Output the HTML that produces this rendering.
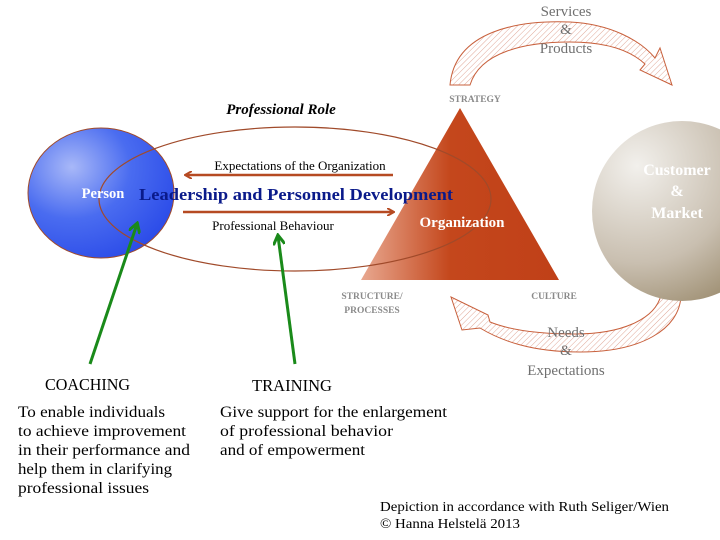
<!DOCTYPE html>
<html><head><meta charset="utf-8"><style>html,body{margin:0;padding:0;background:#fff}svg{display:block}</style></head>
<body>
<svg width="720" height="540" viewBox="0 0 720 540" xmlns="http://www.w3.org/2000/svg" font-family="Liberation Serif, serif">
<defs>
<pattern id="hatch" width="4" height="4" patternUnits="userSpaceOnUse" patternTransform="rotate(45)">
<rect width="4" height="4" fill="#fff"/><line x1="0" y1="0" x2="0" y2="4" stroke="#e0a898" stroke-width="1"/></pattern>
<radialGradient id="blue" cx="0.3" cy="0.3" r="0.8"><stop offset="0" stop-color="#a8b8f8"/><stop offset="0.5" stop-color="#4a6cf0"/><stop offset="1" stop-color="#2a4ae8"/></radialGradient>
<linearGradient id="tri" x1="0" y1="0" x2="1" y2="0"><stop offset="0" stop-color="#e8a890"/><stop offset="0.45" stop-color="#c4471c"/><stop offset="1" stop-color="#c04018"/></linearGradient>
<radialGradient id="cust" cx="0.25" cy="0.25" r="0.9"><stop offset="0" stop-color="#f2f0ec"/><stop offset="0.6" stop-color="#c9bfb0"/><stop offset="1" stop-color="#9a8a6c"/></radialGradient>
<marker id="ah" markerWidth="8" markerHeight="8" refX="6" refY="4" orient="auto" markerUnits="userSpaceOnUse"><path d="M0,0 L7,4 L0,8" fill="none" stroke="#b64a22" stroke-width="2"/></marker>
<marker id="gh" markerWidth="12" markerHeight="12" refX="9" refY="6" orient="auto" markerUnits="userSpaceOnUse"><path d="M0,0 L10,6 L0,12" fill="none" stroke="#1a8a1a" stroke-width="3"/></marker>
</defs>
<path d="M450,85 C455,30 520,20 570,22 C610,24 640,40 655,58 L660,48 L672,85 L640,70 L645,64 C630,50 605,42 570,42 C525,42 480,52 470,85 Z" fill="url(#hatch)" stroke="#c8603c" stroke-width="1"/>
<text x="566" y="16" font-size="15" fill="#707070" text-anchor="middle">Services</text>
<text x="566" y="34" font-size="15" fill="#707070" text-anchor="middle">&amp;</text>
<text x="566" y="53" font-size="15" fill="#707070" text-anchor="middle">Products</text>
<path d="M681,295 C680,330 640,352 580,352 C530,352 500,340 480,328 L462,330 L451,297 L488,315 L490,322 C510,330 540,334 575,334 C620,334 655,320 661,295 Z" fill="url(#hatch)" stroke="#c8603c" stroke-width="1"/>
<text x="566" y="337" font-size="15" fill="#707070" text-anchor="middle">Needs</text>
<text x="566" y="355" font-size="15" fill="#707070" text-anchor="middle">&amp;</text>
<text x="566" y="375" font-size="15" fill="#707070" text-anchor="middle">Expectations</text>
<circle cx="682" cy="211" r="90" fill="url(#cust)"/>
<text x="677" y="175" font-size="16" font-weight="bold" fill="#fff" text-anchor="middle">Customer</text>
<text x="677" y="196" font-size="16" font-weight="bold" fill="#fff" text-anchor="middle">&amp;</text>
<text x="677" y="218" font-size="16" font-weight="bold" fill="#fff" text-anchor="middle">Market</text>
<ellipse cx="101" cy="193" rx="73" ry="65" fill="url(#blue)" stroke="#a04a2a" stroke-width="1"/>
<path d="M460,108 L559,280 L361,280 Z" fill="url(#tri)"/>
<ellipse cx="295" cy="199" rx="196" ry="72" fill="none" stroke="#a04a2a" stroke-width="1.2"/>
<text x="475" y="102" font-size="9.5" font-weight="bold" fill="#8a8a8a" text-anchor="middle">STRATEGY</text>
<text x="372" y="299" font-size="9.5" font-weight="bold" fill="#8a8a8a" text-anchor="middle">STRUCTURE/</text>
<text x="372" y="313" font-size="9.5" font-weight="bold" fill="#8a8a8a" text-anchor="middle">PROCESSES</text>
<text x="554" y="299" font-size="9.5" font-weight="bold" fill="#8a8a8a" text-anchor="middle">CULTURE</text>
<text x="281" y="114" font-size="15" font-weight="bold" font-style="italic" fill="#000" text-anchor="middle">Professional Role</text>
<text x="300" y="170" font-size="13" fill="#000" text-anchor="middle">Expectations of the Organization</text>
<line x1="393" y1="175" x2="186" y2="175" stroke="#b64a22" stroke-width="2.5" marker-end="url(#ah)"/>
<text x="103" y="198" font-size="14.5" font-weight="bold" fill="#fff" text-anchor="middle">Person</text>
<text x="296" y="200" font-size="17" font-weight="bold" fill="#0a1a8a" text-anchor="middle" textLength="314" lengthAdjust="spacingAndGlyphs">Leadership and Personnel Development</text>
<line x1="183" y1="212" x2="393" y2="212" stroke="#b64a22" stroke-width="2.5" marker-end="url(#ah)"/>
<text x="273" y="230" font-size="13" fill="#000" text-anchor="middle">Professional Behaviour</text>
<text x="462" y="227" font-size="15" font-weight="bold" fill="#fff" text-anchor="middle">Organization</text>
<line x1="90" y1="364" x2="137" y2="224" stroke="#1a8a1a" stroke-width="3" marker-end="url(#gh)"/>
<line x1="295" y1="364" x2="278" y2="236" stroke="#1a8a1a" stroke-width="3" marker-end="url(#gh)"/>
<g font-size="17" fill="#000">
<text x="45" y="390" textLength="85" lengthAdjust="spacingAndGlyphs">COACHING</text>
<text x="252" y="391" textLength="80" lengthAdjust="spacingAndGlyphs">TRAINING</text>
</g>
<g font-size="16" fill="#000">
<text x="18" y="417" textLength="147" lengthAdjust="spacingAndGlyphs">To enable individuals</text>
<text x="18" y="436" textLength="168" lengthAdjust="spacingAndGlyphs">to achieve improvement</text>
<text x="18" y="455" textLength="172" lengthAdjust="spacingAndGlyphs">in their performance and</text>
<text x="18" y="474" textLength="154" lengthAdjust="spacingAndGlyphs">help them in clarifying</text>
<text x="18" y="493" textLength="131" lengthAdjust="spacingAndGlyphs">professional issues</text>
<text x="220" y="417" textLength="227" lengthAdjust="spacingAndGlyphs">Give support for the enlargement</text>
<text x="220" y="436" textLength="173" lengthAdjust="spacingAndGlyphs">of  professional behavior</text>
<text x="220" y="455" textLength="145" lengthAdjust="spacingAndGlyphs">and of empowerment</text>
</g>
<g font-size="13.5" fill="#000">
<text x="380" y="511" textLength="289" lengthAdjust="spacingAndGlyphs">Depiction in accordance with Ruth Seliger/Wien</text>
<text x="380" y="528" textLength="140" lengthAdjust="spacingAndGlyphs">© Hanna Helstelä 2013</text>
</g>
</svg>
</body></html>
